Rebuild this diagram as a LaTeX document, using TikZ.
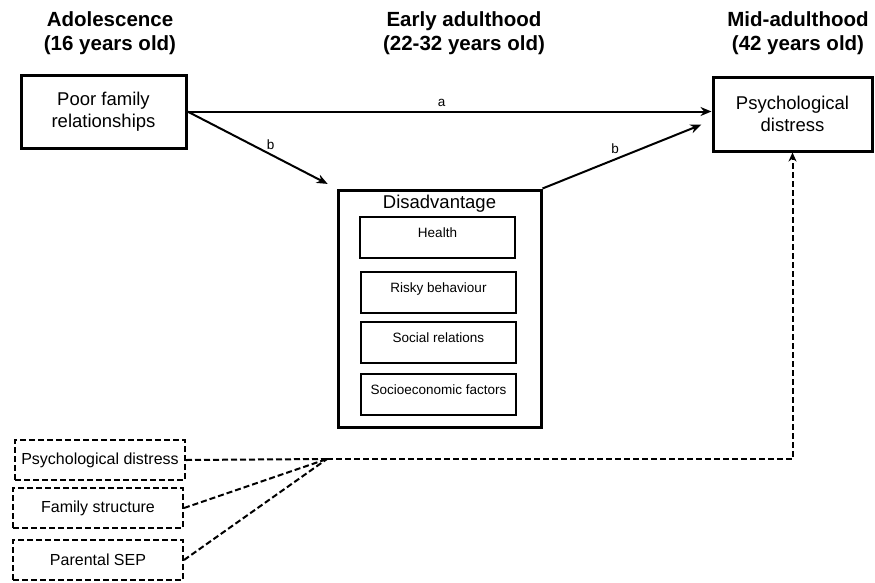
\documentclass[tikz,border=0pt]{standalone}
\usepackage{fontspec}
\setmainfont{Liberation Sans}
\usetikzlibrary{arrows.meta}
\usetikzlibrary{calc}

\tikzset{
    heading/.style={align=center, inner sep=0pt, font=\fontsize{20.5}{24}\selectfont\bfseries},
    mainbox/.style={draw, line width=3pt, align=center, inner sep=0pt, font=\fontsize{18.5}{22.5}\selectfont},
    innerbox/.style={draw, line width=2pt, inner xsep=0pt, inner ysep=0pt, minimum width=155pt, text height=20.5pt, text depth=20.5pt, font=\fontsize{13.5}{15}\selectfont},
    covbox/.style={draw, line width=2pt, dash pattern=on 6pt off 3pt, inner sep=0pt, minimum width=170pt, minimum height=40pt, font=\fontsize{16}{18}\selectfont},
    arr/.style={line width=2pt, -{Stealth[length=11pt,width=9pt]}},
    covarr/.style={line width=2pt, dash pattern=on 6pt off 3pt},
    lab/.style={inner sep=1pt, font=\fontsize{13.5}{15}\selectfont}
}

\begin{document}
\begin{tikzpicture}[x=1pt, y=-1pt]
    \useasboundingbox (0,0) rectangle (875,582);

    \node[heading] (adol) at (110,33) {Adolescence\\(16 years old)};
    \node[heading] (early) at (464,33) {Early adulthood\\(22-32 years old)};
    \node[heading] (mid) at (798,33) {Mid-adulthood\\(42 years old)};

    \node[mainbox, minimum width=165pt, minimum height=73pt] (poor) at (103.5,111.5) {Poor family\\relationships};
    \node[mainbox, minimum width=159pt, minimum height=74pt] (psych) at (792.5,114) {Psychological\\distress};

    \node[draw, line width=3pt, minimum width=203pt, minimum height=237pt] (dis) at (439.5,308.5) {};
    \node[inner sep=0pt, font=\fontsize{18.5}{22}\selectfont] (distitle) at (439.5,204) {Disadvantage};
    \node[innerbox] (health) at (437.5,237.5) {Health};
    \node[innerbox] (risky) at (438.5,292) {Risky behaviour};
    \node[innerbox] (social) at (438.5,342.5) {Social relations};
    \node[innerbox] (socio) at (438.5,394) {Socioeconomic factors};

    \draw[arr] (poor.east) -- (poor.east -| psych.west) node[lab, pos=0.485, above=3pt] (la) {a};
    \draw[arr, shorten >=10pt] (poor.east) -- (dis.north west) node[lab, pos=0.52, above right=0pt] (lb1) {b};
    \draw[arr, shorten >=11pt] (dis.north east) -- ($(psych.west)+(0,6.6)$) node[lab, pos=0.47, above left=1pt] (lb2) {b};

    \node[covbox] (covpd) at (100,460) {Psychological distress};
    \node[covbox] (covfam) at (98,508) {Family structure};
    \node[covbox] (covsep) at (98,560) {Parental SEP};
    \coordinate (meet) at (327,459);

    \draw[covarr] (covpd.east) -- (meet);
    \draw[covarr] (covfam.east) -- (meet);
    \draw[covarr] (covsep.east) -- (meet);
    \draw[covarr, -{Stealth[length=9pt,width=8pt]}] (meet) -| (psych.south);
\end{tikzpicture}
\end{document}
